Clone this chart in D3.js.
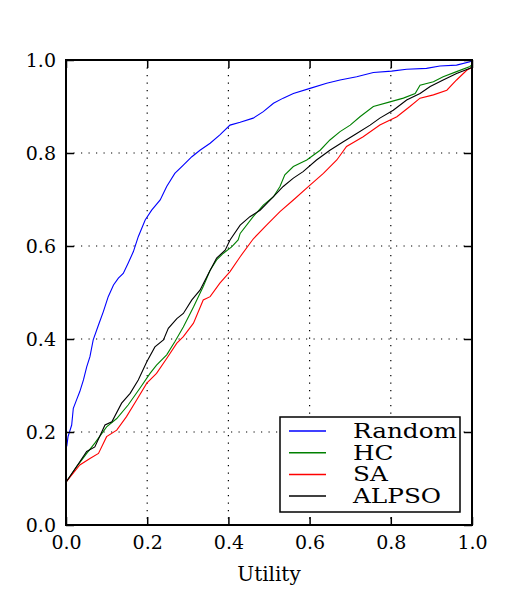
<!DOCTYPE html>
<html><head><meta charset="utf-8">
<script src="https://cdn.jsdelivr.net/npm/d3@7"></script>
<style>body{margin:0;background:#fff}svg{display:block}</style>
</head><body>
<script>
const xTicks = [0, 0.2, 0.4, 0.6, 0.8, 1.0];
const yTicks = [0, 0.2, 0.4, 0.6, 0.8, 1.0];
const seriesNames = ["Random", "HC", "SA", "ALPSO"];
const seriesColors = ["#0000ff", "#008000", "#ff0000", "#000000"];

const randomCurve = [[0,0.168],[0.002,0.17],[0.005,0.19],[0.014,0.215],[0.018,0.251],[0.026,0.269],[0.034,0.287],[0.043,0.312],[0.051,0.340],[0.059,0.362],[0.067,0.398],[0.080,0.430],[0.092,0.459],[0.104,0.491],[0.117,0.516],[0.129,0.531],[0.141,0.541],[0.153,0.563],[0.166,0.588],[0.178,0.620],[0.195,0.656],[0.211,0.677],[0.232,0.699],[0.248,0.728],[0.268,0.756],[0.289,0.774],[0.310,0.792],[0.330,0.806],[0.355,0.821],[0.379,0.839],[0.404,0.860],[0.429,0.866],[0.461,0.875],[0.486,0.889],[0.511,0.907],[0.535,0.918],[0.560,0.928],[0.601,0.939],[0.642,0.950],[0.675,0.957],[0.716,0.964],[0.757,0.973],[0.802,0.976],[0.839,0.980],[0.888,0.982],[0.921,0.987],[0.962,0.989],[0.995,0.996],[1.0,1.0]];

const hcCurve = [[0,0.092],[0.026,0.125],[0.051,0.154],[0.071,0.176],[0.100,0.211],[0.125,0.229],[0.153,0.258],[0.182,0.294],[0.207,0.326],[0.223,0.344],[0.248,0.366],[0.268,0.394],[0.289,0.426],[0.314,0.469],[0.338,0.513],[0.355,0.548],[0.371,0.570],[0.387,0.584],[0.408,0.598],[0.424,0.613],[0.429,0.627],[0.461,0.663],[0.486,0.688],[0.511,0.706],[0.527,0.728],[0.539,0.753],[0.560,0.771],[0.593,0.785],[0.626,0.806],[0.650,0.828],[0.675,0.846],[0.700,0.860],[0.724,0.878],[0.757,0.900],[0.798,0.910],[0.831,0.918],[0.860,0.928],[0.872,0.946],[0.905,0.953],[0.929,0.964],[0.962,0.975],[0.995,0.986],[1.0,0.99]];

const saCurve = [[0,0.092],[0.034,0.129],[0.059,0.143],[0.080,0.154],[0.100,0.190],[0.125,0.204],[0.149,0.233],[0.174,0.269],[0.199,0.305],[0.223,0.326],[0.248,0.358],[0.273,0.391],[0.289,0.405],[0.314,0.434],[0.338,0.484],[0.355,0.491],[0.379,0.520],[0.404,0.545],[0.429,0.577],[0.461,0.615],[0.494,0.645],[0.527,0.674],[0.560,0.699],[0.601,0.731],[0.634,0.756],[0.667,0.785],[0.691,0.814],[0.732,0.835],[0.773,0.860],[0.815,0.878],[0.847,0.900],[0.872,0.918],[0.905,0.925],[0.938,0.935],[0.962,0.957],[0.987,0.978],[1.0,0.984]];

const alpsoCurve = [[0,0.092],[0.034,0.136],[0.051,0.158],[0.071,0.168],[0.096,0.215],[0.113,0.222],[0.137,0.262],[0.158,0.283],[0.178,0.312],[0.199,0.351],[0.219,0.383],[0.240,0.398],[0.252,0.423],[0.273,0.444],[0.289,0.455],[0.310,0.484],[0.330,0.505],[0.351,0.541],[0.371,0.574],[0.392,0.591],[0.404,0.613],[0.429,0.645],[0.453,0.663],[0.478,0.677],[0.511,0.706],[0.535,0.728],[0.560,0.746],[0.584,0.760],[0.617,0.785],[0.650,0.806],[0.683,0.824],[0.716,0.842],[0.749,0.860],[0.773,0.875],[0.806,0.892],[0.839,0.914],[0.872,0.928],[0.897,0.943],[0.929,0.957],[0.962,0.971],[0.995,0.982],[1.0,0.985]];

const curves = [randomCurve, hcCurve, saCurve, alpsoCurve];

const W = 525, H = 600;
const m = {left: 66, right: 472, top: 60, bottom: 525};
const font = "'DejaVu Serif', serif";

const svg = d3.select("body").append("svg").attr("width", W).attr("height", H);
const x = d3.scaleLinear().domain([0, 1]).range([m.left, m.right]);
const y = d3.scaleLinear().domain([0, 1]).range([m.bottom, m.top]);

svg.append("defs").append("clipPath").attr("id", "clip")
  .append("rect").attr("x", m.left).attr("y", m.top)
  .attr("width", m.right - m.left).attr("height", m.bottom - m.top);

// grid
const grid = svg.append("g");
grid.selectAll("line.gx").data(xTicks.slice(1, -1)).join("line")
  .attr("x1", d => x(d)).attr("x2", d => x(d)).attr("y1", m.top).attr("y2", m.bottom)
  .attr("stroke", "#000").attr("stroke-width", 1.2).attr("stroke-dasharray", "1.2,6.3");
grid.selectAll("line.gy").data(yTicks.slice(1, -1)).join("line")
  .attr("y1", d => y(d)).attr("y2", d => y(d)).attr("x1", m.left).attr("x2", m.right)
  .attr("stroke", "#000").attr("stroke-width", 1.2).attr("stroke-dasharray", "1.2,6.3");

// lines
const line = d3.line().x(d => x(d[0])).y(d => y(d[1]));
const lg = svg.append("g").attr("clip-path", "url(#clip)");
curves.forEach((c, i) => {
  lg.append("path").datum(c).attr("d", line).attr("fill", "none")
    .attr("stroke", seriesColors[i]).attr("stroke-width", 1.1);
});

// axes (ticks inside, all four sides)
const tickLen = 8;
const fmt = d3.format(".1f");
const axB = d3.axisBottom(x).tickValues(xTicks).tickFormat(fmt).tickSizeInner(-tickLen).tickSizeOuter(0).tickPadding(11);
const axT = d3.axisTop(x).tickValues(xTicks).tickFormat("").tickSizeInner(-tickLen).tickSizeOuter(0);
const axL = d3.axisLeft(y).tickValues(yTicks).tickFormat(fmt).tickSizeInner(-tickLen).tickSizeOuter(0).tickPadding(10);
const axR = d3.axisRight(y).tickValues(yTicks).tickFormat("").tickSizeInner(-tickLen).tickSizeOuter(0);

function style(g) {
  g.select(".domain").remove();
  g.selectAll(".tick line").attr("stroke", "#000").attr("stroke-width", 1.5);
  g.selectAll(".tick text").attr("font-family", font).attr("font-size", 19).attr("fill", "#000");
}
svg.append("g").attr("transform", `translate(0,${m.bottom})`).call(axB).call(style);
svg.append("g").attr("transform", `translate(0,${m.top})`).call(axT).call(style);
svg.append("g").attr("transform", `translate(${m.left},0)`).call(axL).call(style);
svg.append("g").attr("transform", `translate(${m.right},0)`).call(axR).call(style);

// frame
svg.append("rect").attr("x", m.left).attr("y", m.top)
  .attr("width", m.right - m.left).attr("height", m.bottom - m.top)
  .attr("fill", "none").attr("stroke", "#000").attr("stroke-width", 2);

// x label
svg.append("text").attr("x", (m.left + m.right) / 2).attr("y", 581)
  .attr("text-anchor", "middle").attr("font-family", font).attr("font-size", 20).text("Utility");

// legend
const leg = svg.append("g");
leg.append("rect").attr("x", 280).attr("y", 417).attr("width", 180).attr("height", 95)
  .attr("fill", "#fff").attr("stroke", "#000").attr("stroke-width", 1.5);
const texts = [];
seriesNames.forEach((n, i) => {
  const cy = 431 + i * 21.7;
  leg.append("line").attr("x1", 289).attr("x2", 326).attr("y1", cy).attr("y2", cy)
    .attr("stroke", seriesColors[i]).attr("stroke-width", 1.5);
  texts.push(leg.append("text").attr("x", 0).attr("y", 0).attr("font-family", font)
    .attr("font-size", 18.5).text(n).attr("data-cy", cy));
});
const refW = texts[0].node().getComputedTextLength();
const sx = 104 / refW;
texts.forEach(t => {
  const cy = +t.attr("data-cy");
  t.attr("transform", `translate(353,${cy + 7}) scale(${sx},1.12)`);
});
</script>
</body></html>
